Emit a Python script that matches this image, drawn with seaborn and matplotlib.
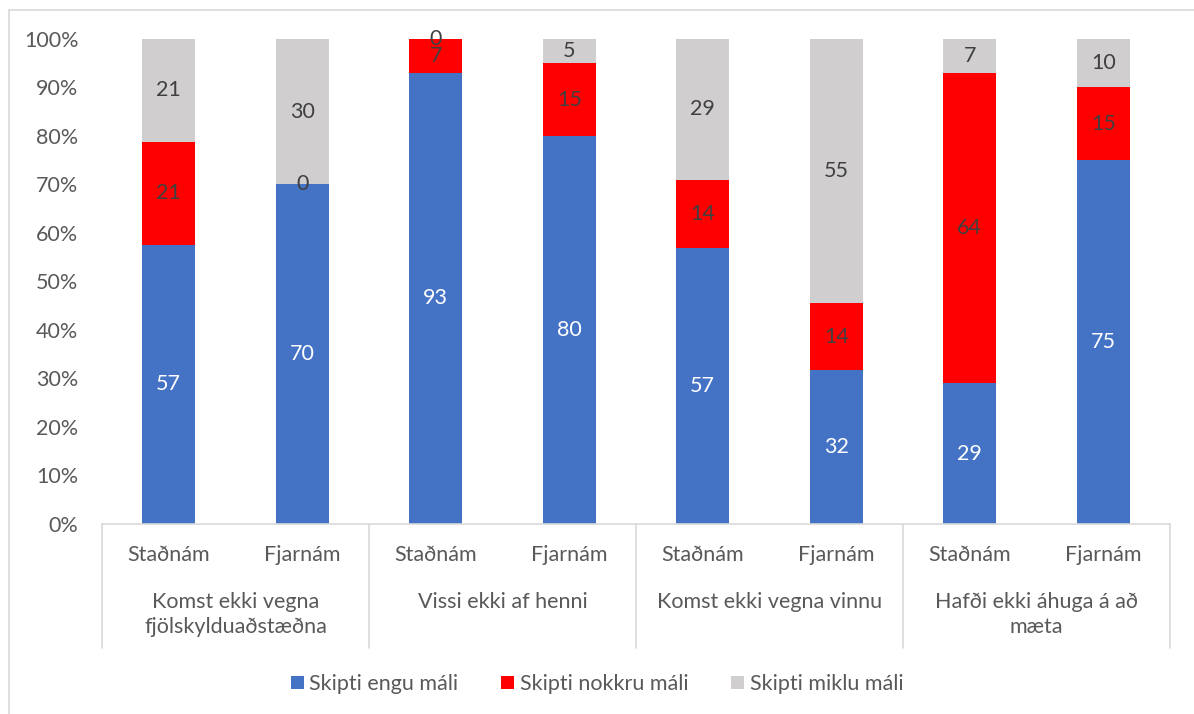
import matplotlib
matplotlib.use("Agg")
import matplotlib.pyplot as plt
from matplotlib.patches import Patch, Rectangle
import numpy as np
import pandas as pd
import seaborn as sns

groups = [
    "Komst ekki vegna\nfjölskylduaðstæðna",
    "Vissi ekki af henni",
    "Komst ekki vegna vinnu",
    "Hafði ekki áhuga á að\nmæta",
]
modes = ["Staðnám", "Fjarnám"]
series = ["Skipti engu máli", "Skipti nokkru máli", "Skipti miklu máli"]
engu = [57, 70, 93, 80, 57, 32, 29, 75]
nokkru = [21, 0, 7, 15, 14, 14, 64, 15]
miklu = [21, 30, 0, 5, 29, 55, 7, 10]
colors = ["#4472C4", "#FF0000", "#D0CECE"]

sns.set_theme(style="white")
plt.rcParams["font.family"] = ["Lato", "DejaVu Sans"]

FS = 15.5

raw = np.array([engu, nokkru, miklu], dtype=float)
pct = raw / raw.sum(axis=0) * 100
cum = np.cumsum(pct, axis=0)

bar_ids = [f"{g}|{m}" for g in groups for m in modes]
df = pd.DataFrame({"bar": bar_ids, "c0": cum[0], "c1": cum[1], "c2": cum[2]})

fig = plt.figure(figsize=(11.94, 7.14), dpi=100)
ax = fig.add_axes([102 / 1194, 1 - 524 / 714, (1170 - 102) / 1194, (524 - 39) / 714])

# overlapping cumulative bars give the stacked look
for col, color in zip(["c2", "c1", "c0"], colors[::-1]):
    sns.barplot(data=df, x="bar", y=col, color=color, width=0.4, ax=ax,
                saturation=1, linewidth=0)

ax.set_xlim(-0.5, 7.5)
ax.set_ylim(0, 100)
ax.set_yticks(np.arange(0, 101, 10))
ax.set_yticklabels([f"{t}%" for t in range(0, 101, 10)], fontsize=FS, color="#595959")
ax.tick_params(axis="y", length=0, pad=17)
ax.set_xticks([])
ax.set_xlabel("")
ax.set_ylabel("")
for side in ["left", "right", "top"]:
    ax.spines[side].set_visible(False)
ax.spines["bottom"].set_color("#D9D9D9")
ax.spines["bottom"].set_linewidth(1.2)

# data labels
label_colors = ["white", "#404040", "#404040"]
for s in range(3):
    for i in range(len(bar_ids)):
        lo = 0 if s == 0 else cum[s - 1][i]
        mid = (lo + cum[s][i]) / 2
        ax.text(i, mid, f"{int(raw[s][i])}", ha="center", va="center",
                fontsize=FS, color=label_colors[s])

# multi-level category axis
trans = ax.get_xaxis_transform()
for xs in [-0.5, 1.5, 3.5, 5.5, 7.5]:
    ax.plot([xs, xs], [0, -0.256], transform=trans, color="#D9D9D9",
            lw=1.2, clip_on=False)
for i, bid in enumerate(bar_ids):
    ax.text(i, -0.064, bid.split("|")[1], transform=trans, ha="center",
            va="center", fontsize=FS, color="#595959")
for g, name in enumerate(groups):
    ax.text(2 * g + 0.5, -0.140, name, transform=trans, ha="center", va="top",
            fontsize=FS, color="#595959", linespacing=1.3)

handles = [Patch(facecolor=c, edgecolor="none") for c in colors]
fig.legend(handles, series, loc="center", bbox_to_anchor=(0.5, 1 - 684 / 714),
           ncol=3, frameon=False, fontsize=FS, handlelength=0.6, handleheight=0.6,
           handletextpad=0.25, columnspacing=2.0, labelcolor="#595959")

fig.add_artist(Rectangle((9 / 1194, -0.1), 1.2, 1 - 10 / 714 + 0.1,
                         transform=fig.transFigure, fill=False,
                         edgecolor="#D9D9D9", lw=1.2))

fig.savefig("out.png", dpi=100)
